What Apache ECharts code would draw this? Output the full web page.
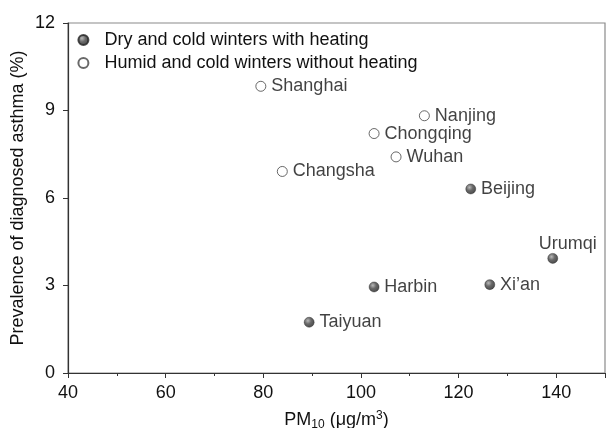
<!DOCTYPE html>
<html>
<head>
<meta charset="utf-8">
<script src="https://cdn.jsdelivr.net/npm/echarts@6/dist/echarts.min.js"></script>
<style>html,body{margin:0;padding:0;background:#fff}#c{width:606px;height:428px}</style>
</head>
<body>
<div id="c"></div>
<script>
var heatingCities = ['Beijing', 'Urumqi', "Xi\u2019an", 'Harbin', 'Taiyuan'];
var heatingPM10 = [122.5, 139.3, 126.4, 102.7, 89.4];
var heatingAsthma = [6.31, 3.93, 3.03, 2.95, 1.74];

var humidCities = ['Shanghai', 'Nanjing', 'Chongqing', 'Wuhan', 'Changsha'];
var humidPM10 = [79.5, 113.0, 102.7, 107.2, 83.9];
var humidAsthma = [9.83, 8.82, 8.21, 7.41, 6.91];

var seriesNames = ['Dry and cold winters with heating', 'Humid and cold winters without heating'];
var xTicks = [40, 60, 80, 100, 120, 140];
var yTicks = [0, 3, 6, 9, 12];

var FONT = '"Liberation Sans", Arial, sans-serif';
var TXT = '#111';
var FS = 18;

function build(cities, xs, ys) {
  return cities.map(function (c, i) {
    var item = { name: c, value: [xs[i], ys[i]] };
    if (c === 'Urumqi') {
      item.label = { position: 'top', distance: 4, offset: [15, 4] };
    }
    return item;
  });
}

var sphere = {
  type: 'radial', x: 0.38, y: 0.35, r: 0.62,
  colorStops: [{ offset: 0, color: '#a8a8a8' }, { offset: 0.5, color: '#444' }, { offset: 1, color: '#222' }]
};

var chart = echarts.init(document.getElementById('c'), null, { renderer: 'canvas' });
chart.setOption({
  animation: false,
  backgroundColor: '#fff',
  textStyle: { fontFamily: FONT },
  grid: { left: 68, top: 23, right: 1, bottom: 55, outerBoundsMode: 'none', containLabel: false, show: true, borderColor: '#8a8a8a', borderWidth: 1.2, backgroundColor: 'transparent' },
  legend: {
    orient: 'vertical', left: 72.4, top: 26, itemWidth: 32, itemHeight: 10, itemGap: 5,
    textStyle: { fontSize: FS, color: TXT, fontFamily: FONT },
    data: seriesNames
  },
  xAxis: {
    type: 'value', min: 40, max: 150, interval: 20,
    name: '{a|PM}{s|10}{a| (\u03bcg/m}{p|3}{a|)}',
    nameLocation: 'middle', nameGap: 37, nameMoveOverlap: false,
    nameTextStyle: {
      rich: {
        a: { fontSize: FS, color: TXT, fontFamily: FONT, lineHeight: 20 },
        s: { fontSize: 12, color: TXT, fontFamily: FONT, lineHeight: 20, padding: [10, 0, 0, 0] },
        p: { fontSize: 12, color: TXT, fontFamily: FONT, lineHeight: 20, padding: [0, 0, 9, 0] }
      }
    },
    axisLine: { show: true, onZero: false, lineStyle: { color: '#333', width: 1.2 } },
    axisTick: { show: true, inside: false, length: 5, lineStyle: { color: '#333' } },
    minorTick: { show: true, splitNumber: 2, length: 3, lineStyle: { color: '#333' } },
    splitLine: { show: false },
    axisLabel: {
      fontSize: FS, color: TXT, margin: 11, showMaxLabel: false,
      formatter: function (v) { return xTicks.indexOf(v) >= 0 ? String(v) : ''; }
    }
  },
  yAxis: {
    type: 'value', min: 0, max: 12, interval: 3,
    name: 'Prevalence of diagnosed asthma (%)',
    nameLocation: 'middle', nameRotate: 90, nameGap: 41, nameMoveOverlap: false,
    nameTextStyle: { fontSize: FS, color: TXT, fontFamily: FONT },
    axisLine: { show: true, onZero: false, lineStyle: { color: '#333', width: 1.2 } },
    axisTick: { show: true, inside: false, length: 5, lineStyle: { color: '#333' } },
    splitLine: { show: false },
    axisLabel: {
      fontSize: FS, color: TXT, margin: 13,
      formatter: function (v) { return yTicks.indexOf(v) >= 0 ? String(v) : ''; }
    }
  },
  series: [
    {
      name: seriesNames[0], type: 'scatter', symbol: 'circle', symbolSize: 10,
      itemStyle: { color: sphere, borderColor: '#222', borderWidth: 0.5 },
      label: { show: true, position: 'right', distance: 5, formatter: '{b}', fontSize: FS, color: TXT, fontFamily: FONT },
      data: build(heatingCities, heatingPM10, heatingAsthma)
    },
    {
      name: seriesNames[1], type: 'scatter', symbol: 'circle', symbolSize: 10,
      itemStyle: { color: '#fff', borderColor: '#444', borderWidth: 1 },
      label: { show: true, position: 'right', distance: 5, formatter: '{b}', fontSize: FS, color: TXT, fontFamily: FONT },
      data: build(humidCities, humidPM10, humidAsthma)
    }
  ]
});
</script>
</body>
</html>
